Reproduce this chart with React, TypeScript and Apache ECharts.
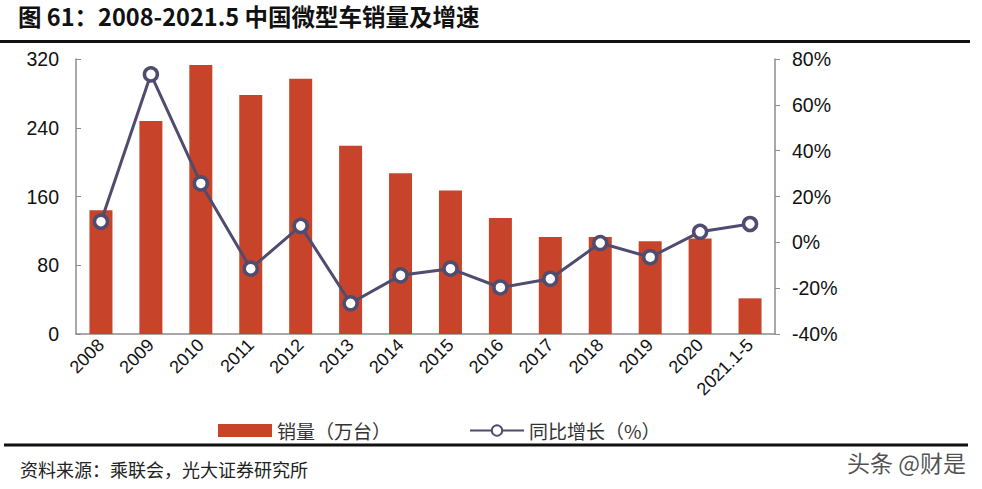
import React, { useEffect, useRef } from "react";
import * as echarts from "echarts";

const categories = ["2008", "2009", "2010", "2011", "2012", "2013", "2014", "2015", "2016", "2017", "2018", "2019", "2020", "2021.1-5"];
const sales = [144, 248, 313, 278, 297, 219, 187, 167, 135, 113, 113, 108, 111, 41.5];
const growth = [9, 73.3, 25.7, -11.5, 7.2, -26.6, -14.4, -11.5, -19.7, -15.9, -0.3, -6.5, 4.6, 8];
const leftTicks = { min: 0, max: 320, interval: 80 };
const rightTicks = { min: -40, max: 80, interval: 20 };

const BAR = "#C7442A";
const LINE = "#4F4C70";
const AXIS = "#8C8C8C";
const NUM_FONT = "'Liberation Sans', Arial, sans-serif";
const CJK = "'Noto Sans CJK SC', sans-serif";

export default function App() {
  const ref = useRef<HTMLDivElement>(null);
  useEffect(() => {
    if (!ref.current) return;
    const chart = echarts.init(ref.current, null, { renderer: "svg" });
    chart.setOption({
      animation: false,
      backgroundColor: "#ffffff",
      grid: { left: 76, right: 207, top: 59, bottom: 155, containLabel: false },
      legend: {
        left: 213,
        top: 416,
        itemWidth: 54,
        itemHeight: 13,
        itemGap: 78,
        textStyle: { fontFamily: CJK, fontSize: 19, color: "#333" },
        data: [
          { name: "销量（万台）", icon: "rect" },
          { name: "同比增长（%）" },
        ],
      },
      xAxis: {
        type: "category",
        data: categories,
        boundaryGap: true,
        axisLine: { lineStyle: { color: AXIS, width: 1.5 } },
        axisTick: { inside: true, length: 6, lineStyle: { color: AXIS } },
        axisLabel: { rotate: 45, fontFamily: NUM_FONT, fontSize: 18, color: "#111", margin: 8, interval: 0 },
      },
      yAxis: [
        {
          type: "value",
          ...leftTicks,
          position: "left",
          splitLine: { show: false },
          axisLine: { show: true, lineStyle: { color: AXIS, width: 1.5 } },
          axisTick: { show: true, inside: true, length: 5, lineStyle: { color: AXIS } },
          axisLabel: { fontFamily: NUM_FONT, fontSize: 19.5, color: "#111", margin: 17 },
        },
        {
          type: "value",
          ...rightTicks,
          position: "right",
          splitLine: { show: false },
          axisLine: { show: true, lineStyle: { color: AXIS, width: 1.5 } },
          axisTick: { show: true, inside: false, length: 5, lineStyle: { color: AXIS } },
          axisLabel: { fontFamily: NUM_FONT, fontSize: 19.5, color: "#111", margin: 17, formatter: "{value}%" },
        },
      ],
      series: [
        {
          name: "销量（万台）",
          type: "bar",
          data: sales,
          yAxisIndex: 0,
          barWidth: 23,
          itemStyle: { color: BAR },
        },
        {
          name: "同比增长（%）",
          type: "line",
          data: growth,
          yAxisIndex: 1,
          symbol: "circle",
          symbolSize: 13,
          lineStyle: { color: LINE, width: 3 },
          itemStyle: { color: "#ffffff", borderColor: LINE, borderWidth: 3.5 },
        },
      ],
      graphic: [
        {
          type: "text",
          left: 18,
          top: 4,
          style: { text: "图 61：2008-2021.5 中国微型车销量及增速", font: `bold 23.5px ${CJK}`, fill: "#111" },
        },
        { type: "rect", shape: { x: 0, y: 40, width: 970, height: 3 }, style: { fill: "#111" } },
        { type: "rect", shape: { x: 4, y: 443.5, width: 964, height: 3 }, style: { fill: "#111" } },
        {
          type: "text",
          left: 20,
          top: 460,
          style: { text: "资料来源：乘联会，光大证券研究所", font: `18px ${CJK}`, fill: "#222" },
        },
        {
          type: "text",
          x: 966,
          y: 462,
          style: {
            text: "头条 @财是",
            font: `23px ${CJK}`,
            fill: "#333",
            opacity: 0.85,
            align: "right",
            verticalAlign: "middle",
          },
        },
      ],
    });
    return () => chart.dispose();
  }, []);
  return <div ref={ref} style={{ position: "fixed", left: 0, top: 0, width: 982, height: 489 }} />;
}
